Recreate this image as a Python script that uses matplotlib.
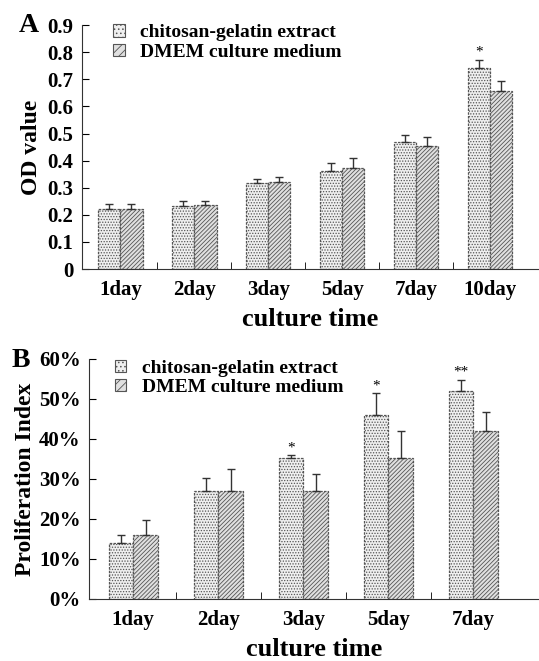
import numpy as np
import matplotlib
matplotlib.use('Agg')
import matplotlib.pyplot as plt
from matplotlib.patches import Patch

plt.rcParams['font.family'] = ['Liberation Serif', 'DejaVu Serif']
plt.rcParams['font.weight'] = 'bold'
plt.rcParams['hatch.linewidth'] = 0.6

# panel A: OD value
days_a = ['1day', '2day', '3day', '5day', '7day', '10day']
od_chit = [0.221, 0.233, 0.318, 0.361, 0.470, 0.740]
od_chit_err = [0.020, 0.019, 0.014, 0.029, 0.025, 0.031]
od_dmem = [0.221, 0.237, 0.322, 0.372, 0.454, 0.657]
od_dmem_err = [0.020, 0.015, 0.019, 0.036, 0.035, 0.038]
stars_a = ['', '', '', '', '', '*']

# panel B: proliferation index (%)
days_b = ['1day', '2day', '3day', '5day', '7day']
pi_chit = [14.0, 27.0, 35.1, 46.0, 52.0]
pi_chit_err = [2.0, 3.3, 0.8, 5.4, 2.8]
pi_dmem = [16.0, 27.0, 27.0, 35.2, 42.1]
pi_dmem_err = [3.8, 5.5, 4.2, 6.7, 4.6]
stars_b = ['', '', '*', '*', '**']

labels = ['chitosan-gelatin extract', 'DMEM culture medium']
edge = '#555555'
face1 = '#efefef'
face2 = '#e0e0e0'

fig = plt.figure(figsize=(5.39, 6.61), dpi=100)
fig.patch.set_facecolor('white')


def panel(ax, days, v1, e1, v2, e2, stars, bw):
    x = np.arange(len(days))
    ax.bar(x - bw / 2, v1, bw, facecolor=face1, edgecolor=edge, hatch='......',
           linewidth=0.9, linestyle=(0, (2, 1)))
    ax.bar(x + bw / 2, v2, bw, facecolor=face2, edgecolor=edge, hatch='////////',
           linewidth=0.9, linestyle=(0, (2, 1)))
    ax.errorbar(x - bw / 2, v1, yerr=[np.zeros(len(v1)), e1], fmt='none',
                ecolor='#333333', elinewidth=1.0, capsize=3, capthick=1.0)
    ax.errorbar(x + bw / 2, v2, yerr=[np.zeros(len(v2)), e2], fmt='none',
                ecolor='#333333', elinewidth=1.0, capsize=3, capthick=1.0)
    return x


def style(ax, x, days, xmax):
    for s in ['top', 'right']:
        ax.spines[s].set_visible(False)
    ax.spines['left'].set_color('#333333')
    ax.spines['bottom'].set_color('#333333')
    ax.set_xticks(x)
    ax.set_xticklabels(days, fontsize=15, fontweight='bold')
    ax.tick_params(axis='x', which='major', length=0, pad=8)
    ax.set_xticks(x[:-1] + 0.5, minor=True)
    ax.tick_params(axis='x', which='minor', direction='in', length=5)
    ax.tick_params(axis='y', direction='in', length=5, labelsize=15, pad=6)
    for t in ax.get_yticklabels():
        t.set_fontweight('bold')
    ax.set_xlim(-0.52, xmax)
    ax.set_xlabel('culture time', fontsize=19, fontweight='bold', labelpad=6)


# panel A
axA = fig.add_axes([0.152, 0.593, 0.848, 0.369])
xa = panel(axA, days_a, od_chit, od_chit_err, od_dmem, od_dmem_err, stars_a, 0.30)
axA.set_ylim(0, 0.9)
axA.set_yticks(np.arange(0, 0.91, 0.1))
axA.set_yticklabels(['0'] + ['%.1f' % v for v in np.arange(0.1, 0.91, 0.1)])
style(axA, xa, days_a, 5.66)
axA.set_ylabel('OD value', fontsize=17, fontweight='bold', labelpad=4)
for i, s in enumerate(stars_a):
    if s:
        axA.text(xa[i] - 0.15, od_chit[i] + od_chit_err[i] + 0.005, s,
                 ha='center', va='bottom', fontsize=11, fontweight='normal')
fig.text(0.035, 0.962, 'A', fontsize=20, fontweight='bold', ha='left', va='center')

# panel B
axB = fig.add_axes([0.165, 0.094, 0.835, 0.363])
xb = panel(axB, days_b, pi_chit, pi_chit_err, pi_dmem, pi_dmem_err, stars_b, 0.29)
axB.set_ylim(0, 60)
axB.set_yticks(np.arange(0, 61, 10))
axB.set_yticklabels(['%d%%' % v for v in np.arange(0, 61, 10)])
style(axB, xb, days_b, 4.77)
axB.set_ylabel('Proliferation Index', fontsize=17, fontweight='bold', labelpad=2)
for i, s in enumerate(stars_b):
    if s:
        axB.text(xb[i] - 0.145, pi_chit[i] + pi_chit_err[i] + 0.3, s,
                 ha='center', va='bottom', fontsize=11, fontweight='normal')
fig.text(0.022, 0.454, 'B', fontsize=20, fontweight='bold', ha='left', va='center')

handles = [Patch(facecolor=face1, edgecolor=edge, hatch='....', linewidth=0.8),
           Patch(facecolor=face2, edgecolor=edge, hatch='////', linewidth=0.8)]
for ax, y, x0 in [(axA, 1.075, 0.03), (axB, 1.07, 0.018)]:
    ax.legend(handles, labels, loc='upper left', bbox_to_anchor=(x0, y),
              frameon=False, handlelength=0.6, handleheight=0.6,
              handletextpad=0.8, labelspacing=0.12,
              prop={'weight': 'bold', 'size': 14})

fig.savefig('out.png', dpi=100, facecolor='white')
